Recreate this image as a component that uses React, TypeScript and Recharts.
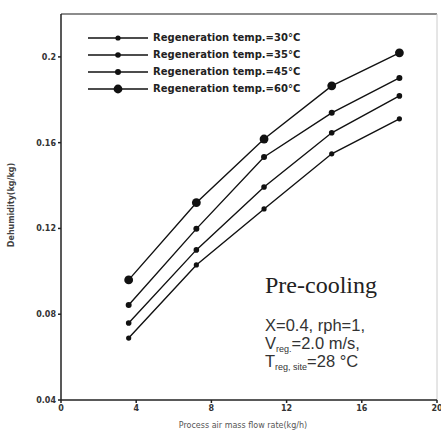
import { LineChart, Line, XAxis, YAxis, ReferenceLine, Legend } from 'recharts'

const flowRates = [3.6, 7.2, 10.8, 14.4, 18]
const temp30 = [0.0689, 0.103, 0.1291, 0.1548, 0.1711]
const temp35 = [0.0759, 0.11, 0.1393, 0.1646, 0.1818]
const temp45 = [0.0843, 0.1198, 0.1533, 0.1739, 0.1902]
const temp60 = [0.096, 0.132, 0.1617, 0.1865, 0.2019]
const xTicks = [0, 4, 8, 12, 16, 20]
const yTicks = [0.04, 0.08, 0.12, 0.16, 0.2]
const seriesNames = [
  'Regeneration temp.=30°C',
  'Regeneration temp.=35°C',
  'Regeneration temp.=45°C',
  'Regeneration temp.=60°C',
]

const data = flowRates.map((x, i) => ({
  x,
  t30: temp30[i],
  t35: temp35[i],
  t45: temp45[i],
  t60: temp60[i],
}))

const keys = ['t30', 't35', 't45', 't60']
const dotR = [2.6, 2.8, 3, 4.4]

function LegendBox() {
  return (
    <div style={{ position: 'absolute', left: 88, top: 29 }}>
      {seriesNames.map((name, i) => (
        <div key={name} style={{ display: 'flex', alignItems: 'center', height: 17 }}>
          <svg width={62} height={12}>
            <line x1={0} y1={6} x2={60} y2={6} stroke="#111" strokeWidth={1.6} />
            <circle cx={30} cy={6} r={dotR[i]} fill="#111" />
          </svg>
          <span
            style={{
              fontFamily: 'DejaVu Sans',
              fontWeight: 'bold',
              fontSize: 10,
              color: '#222',
              marginLeft: 3,
              whiteSpace: 'nowrap',
            }}
          >
            {name}
          </span>
        </div>
      ))}
    </div>
  )
}

export default function App() {
  const tickStyle = { fontFamily: 'DejaVu Sans', fontWeight: 'bold' as const, fontSize: 8, fill: '#333' }
  return (
    <div style={{ position: 'absolute', left: 0, top: 0, width: 441, height: 431, background: '#fff' }}>
      <LineChart width={441} height={431} data={data} margin={{ top: 14, right: 4, bottom: 0, left: 0 }}>
        <XAxis
          dataKey="x"
          type="number"
          domain={[0, 20]}
          ticks={xTicks}
          height={31}
          tickSize={3}
          tick={tickStyle}
          stroke="#222"
          strokeWidth={1.5}
        />
        <YAxis
          type="number"
          domain={[0.04, 0.22]}
          ticks={yTicks}
          width={61}
          tickSize={3}
          tick={tickStyle}
          stroke="#222"
          strokeWidth={1.5}
          tickFormatter={(v: number) => String(Number(v.toFixed(2)))}
        />
        <ReferenceLine y={0.22} stroke="#666" strokeWidth={1.5} />
        <ReferenceLine x={20} stroke="#ccc" strokeWidth={1} />
        {keys.map((k, i) => (
          <Line
            key={k}
            dataKey={k}
            name={seriesNames[i]}
            stroke="#111"
            strokeWidth={1.4}
            dot={{ r: dotR[i], fill: '#111', stroke: '#111', strokeWidth: 0 }}
            isAnimationActive={false}
          />
        ))}
        <Legend content={() => <LegendBox />} wrapperStyle={{ top: 0, left: 0 }} />
      </LineChart>
      <svg
        width={441}
        height={431}
        style={{ position: 'absolute', left: 0, top: 0, pointerEvents: 'none' }}
      >
        <text
          transform="translate(14, 205) rotate(-90)"
          textAnchor="middle"
          fontFamily="DejaVu Sans"
          fontWeight="bold"
          fontSize={8}
          fill="#444"
        >
          Dehumidity(kg/kg)
        </text>
        <text x={243} y={428} textAnchor="middle" fontFamily="DejaVu Sans" fontSize={8} fill="#555">
          Process air mass flow rate(kg/h)
        </text>
        <text x={265} y={293} fontFamily="Liberation Serif" fontSize={24} fill="#222">
          Pre-cooling
        </text>
        <g fontFamily="Liberation Sans" fontSize={16.5} fill="#333">
          <text x={265} y={331}>X=0.4, rph=1,</text>
          <text x={265} y={349}>
            V<tspan fontSize={9} dy={3}>reg.</tspan>
            <tspan dy={-3}>=2.0 m/s,</tspan>
          </text>
          <text x={265} y={367}>
            T<tspan fontSize={9} dy={3}>reg, site</tspan>
            <tspan dy={-3}>=28 °C</tspan>
          </text>
        </g>
      </svg>
    </div>
  )
}
